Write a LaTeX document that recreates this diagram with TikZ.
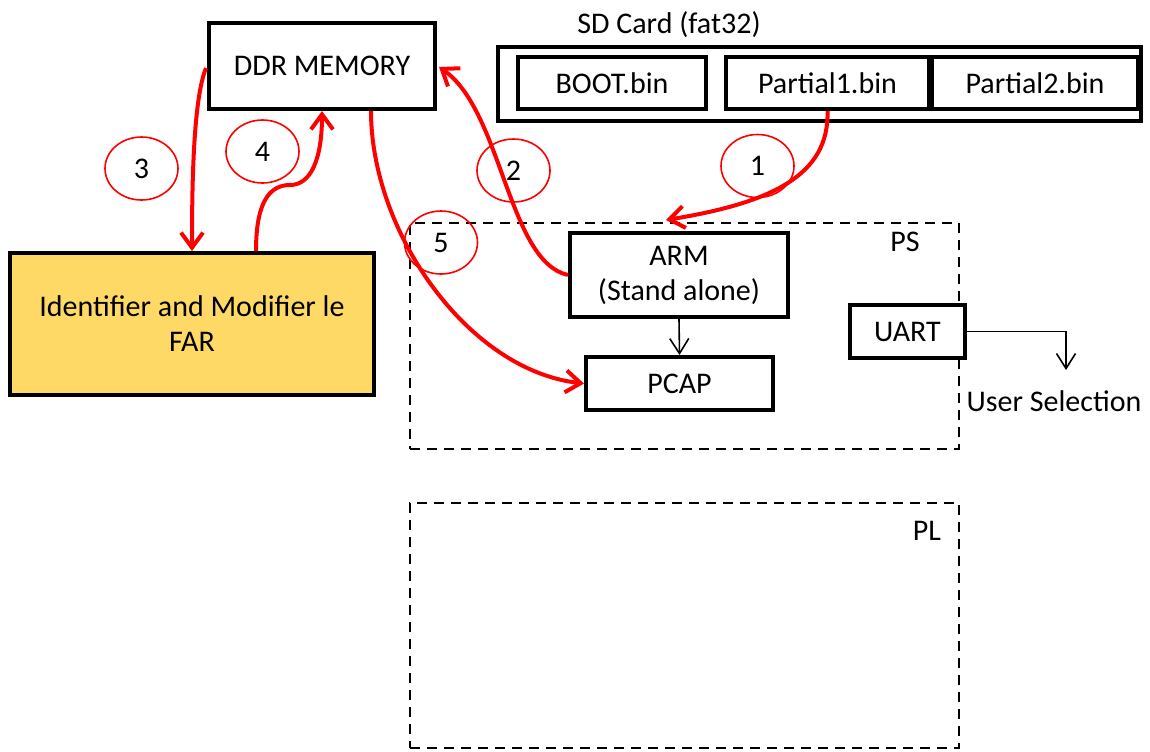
\documentclass[tikz,border=0pt]{standalone}
\usepackage{fontspec}
\setmainfont{Carlito}
\usetikzlibrary{arrows.meta,calc,shapes.geometric}
\definecolor{farfill}{HTML}{FFD966}
\begin{document}
\begin{tikzpicture}[x=0.5pt,y=-0.5pt,
  font=\fontsize{15}{17.5}\selectfont,
  box/.style={draw, fill=white, line width=2pt, inner sep=0pt, align=center},
  region/.style={draw, line width=1.1pt, dash pattern=on 5pt off 3.5pt, inner sep=0pt},
  num/.style={draw=red, ellipse, line width=0.8pt, minimum width=36.5pt, minimum height=31.5pt, inner sep=0pt},
  flow/.style={draw=red, line width=2pt, -{Straight Barb[length=7.5pt,width=11pt]}},
  link/.style={draw=black, line width=0.8pt, -{Straight Barb[length=7.5pt,width=9.5pt]}},
  lbl/.style={inner sep=0pt}
]
\useasboundingbox (0,0) rectangle (1150,751);

% regions
\node[region, minimum width=274.5pt, minimum height=113pt] (ps) at (684.5,336) {};
\node[region, minimum width=274.5pt, minimum height=122.5pt] (pl) at (684.5,625.5) {};
\node[lbl] (pslbl) at (905,242) {PS};
\node[lbl] (pllbl) at (927,531) {PL};

% SD card
\node[lbl] (sdlbl) at (669,25) {SD Card (fat32)};
\node[box, minimum width=321.5pt, minimum height=37pt] (sd) at (819.5,83.5) {};
\node[box, minimum width=94pt, minimum height=26pt] (boot) at (612,83) {BOOT.bin};
\node[box, minimum width=101.5pt, minimum height=26pt] (p1) at (827.5,83) {Partial1.bin};
\node[box, minimum width=103pt, minimum height=26pt] (p2) at (1035,83) {Partial2.bin};

% main boxes
\node[box, minimum width=113pt, minimum height=43pt] (ddr) at (322,66) {DDR MEMORY};
\node[box, fill=farfill, minimum width=182pt, minimum height=71pt] (far) at (192,324) {Identifier and Modifier le\\FAR};
\node[box, minimum width=109pt, minimum height=42pt] (arm) at (679,275) {ARM\\(Stand alone)};
\node[box, minimum width=93.5pt, minimum height=26.5pt] (pcap) at (679.5,383.5) {PCAP};
\node[box, minimum width=57.5pt, minimum height=26.5pt] (uart) at (907.5,331.5) {UART};
\node[lbl] (user) at (1054,401) {User Selection};
\coordinate (usr) at (1066,370);

% step numbers
\node[num] (n1) at (757.5,166) {1};
\node[num] (n2) at (513.5,170.5) {2};
\node[num] (n3) at (141.5,168.5) {3};
\node[num] (n4) at (262.5,151.5) {4};
\node[num] (n5) at (441,242.5) {5};

% black connectors
\draw[link] (arm.south) -- (pcap.north);
\draw[link] (uart.east) -| (usr);

% red flows
\draw[flow] (p1.south) .. controls +(2,65) and +(104,-17) .. ($(arm.north)+(-13,-11)$);
\draw[flow] (arm.west) .. controls +(-60,-13) and +(63,43) .. ($(ddr.east)+(2,1)$);
\draw[flow] ($(ddr.west)+(-1,2)$) .. controls +(-13,32) and +(0,-63) .. (far.north);
\draw[flow] ($(far.north)+(64,0)$) .. controls +(0,-50) and +(-20,0) .. ($(ddr.south)+(-32,74)$)
  .. controls +(20,0) and +(0,50) .. (ddr.south);
\draw[flow] ($(ddr.south)+(49,0)$) .. controls +(0,121) and +(-116,-13) .. (pcap.west);
\end{tikzpicture}
\end{document}
